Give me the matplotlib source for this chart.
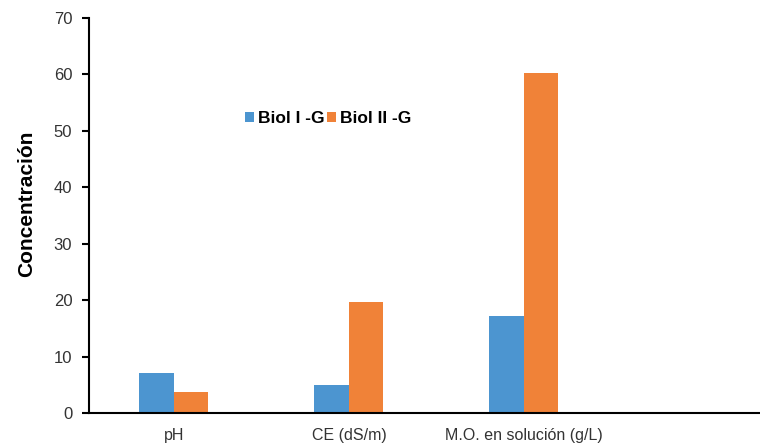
import numpy as np
from matplotlib import pyplot as plt

plt.rcParams['font.family'] = ['Liberation Sans', 'DejaVu Sans']

categories = ["pH", "CE (dS/m)", "M.O. en solución (g/L)"]
biol_1 = [7.0, 5.0, 17.1]
biol_2 = [3.8, 19.7, 60.3]
series_names = ["Biol I -G", "Biol II -G"]

fig = plt.figure(figsize=(7.6, 4.45), dpi=100)
ax = fig.add_axes([0.117, 0.072, 0.883, 0.888])

x = np.arange(len(categories))
w = 0.197
ax.bar(x - w / 2, biol_1, w, color="#4C95D0", label=series_names[0])
ax.bar(x + w / 2, biol_2, w, color="#F08238", label=series_names[1])

ax.set_ylim(0, 70)
ax.set_xlim(-0.486, 3.35)
ax.set_yticks(range(0, 71, 10))
ax.set_xticks(x)
ax.set_xticklabels(categories, fontsize=11.5)

for s in ["top", "right"]:
    ax.spines[s].set_visible(False)
for s in ["left", "bottom"]:
    ax.spines[s].set_linewidth(1.5)
ax.tick_params(axis="x", length=0, pad=11, labelcolor="#333333")
ax.tick_params(axis="y", length=5, width=1.5, direction="out", pad=7, labelsize=12, labelcolor="#333333")

ax.set_ylabel("Concentración", fontsize=15, fontweight="bold")
ax.yaxis.set_label_coords(-0.078, 0.529)

ax.legend(loc="center left", bbox_to_anchor=(0.22, 0.744), ncol=2, frameon=False,
          borderpad=0, handlelength=0.5, handleheight=0.5, handletextpad=0.25, columnspacing=0.12,
          prop={"weight": "bold", "size": 12.5})

plt.savefig("out.png", dpi=100)
plt.close()
